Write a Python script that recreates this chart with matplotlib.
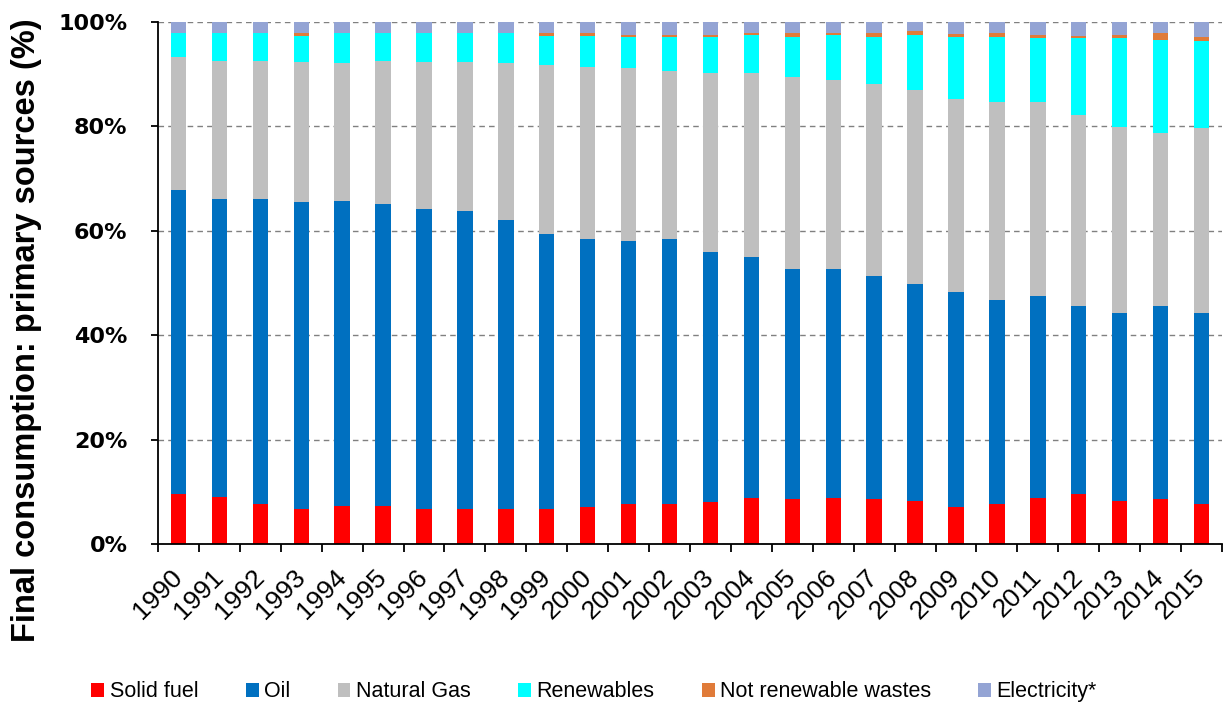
import matplotlib
matplotlib.use("Agg")
import matplotlib.pyplot as plt
from matplotlib.patches import Patch
from matplotlib.ticker import FixedLocator, FuncFormatter
import numpy as np

years = [str(y) for y in range(1990, 2016)]

solid_fuel = [9.5, 9.0, 7.7, 6.8, 7.3, 7.3, 6.8, 6.8, 6.7, 6.8, 7.1, 7.7, 7.7,
              8.0, 8.9, 8.7, 8.9, 8.6, 8.3, 7.1, 7.7, 8.9, 9.5, 8.3, 8.7, 7.7]
oil = [58.4, 57.1, 58.4, 58.7, 58.5, 57.9, 57.4, 56.9, 55.4, 52.6, 51.3, 50.4, 50.7,
       48.0, 46.1, 43.9, 43.7, 42.7, 41.5, 41.2, 39.0, 38.7, 36.0, 36.0, 36.8, 36.6]
natural_gas = [25.3, 26.5, 26.5, 26.9, 26.4, 27.4, 28.2, 28.7, 30.0, 32.4, 33.0, 33.1, 32.2,
               34.3, 35.3, 36.9, 36.3, 36.8, 37.1, 36.9, 38.0, 37.1, 36.7, 35.6, 33.3, 35.3]
renewables = [4.6, 5.2, 5.2, 5.0, 5.6, 5.2, 5.4, 5.4, 5.7, 5.6, 6.0, 5.9, 6.5,
              6.8, 7.3, 7.7, 8.7, 9.1, 10.6, 12.0, 12.5, 12.2, 14.7, 17.0, 17.8, 16.8]
wastes = [0.1, 0.1, 0.1, 0.5, 0.1, 0.1, 0.1, 0.1, 0.1, 0.5, 0.5, 0.5, 0.5,
          0.4, 0.3, 0.6, 0.3, 0.6, 0.7, 0.5, 0.6, 0.7, 0.5, 0.7, 1.2, 0.8]
electricity = [2.1, 2.1, 2.1, 2.1, 2.1, 2.1, 2.1, 2.1, 2.1, 2.1, 2.1, 2.4, 2.4,
               2.5, 2.1, 2.2, 2.1, 2.2, 1.8, 2.3, 2.2, 2.4, 2.6, 2.4, 2.2, 2.8]

series_names = ["Solid fuel", "Oil", "Natural Gas", "Renewables",
                "Not renewable wastes", "Electricity*"]
series_values = [solid_fuel, oil, natural_gas, renewables, wastes, electricity]
colors = ["#FF0000", "#0070C0", "#BFBFBF", "#00FFFF", "#E07B39", "#94A4D4"]

fig = plt.figure(figsize=(12.25, 7.11), dpi=100)
ax = fig.add_axes([158/1225, 1-544/711, 1064/1225, 522/711])

x = np.arange(len(years))
bottom = np.zeros(len(years))
for name, vals, c in zip(series_names, series_values, colors):
    v = np.array(vals, dtype=float)
    ax.bar(x, v, width=0.375, bottom=bottom, color=c, edgecolor='none',
           label=name, zorder=2)
    bottom += v

ax.set_xlim(-0.5, len(years) - 0.5)
ax.set_ylim(0, 100)

ax.set_axisbelow(True)
ax.yaxis.set_major_locator(FixedLocator([0, 20, 40, 60, 80, 100]))
ax.yaxis.set_major_formatter(FuncFormatter(lambda v, p: f"{v:.0f}%"))
ax.grid(axis='y', color='#808080', linestyle=(0, (4, 3)), linewidth=1.0, zorder=0)

for s in ['top', 'right']:
    ax.spines[s].set_visible(False)
for s in ['left', 'bottom']:
    ax.spines[s].set_color('black')
    ax.spines[s].set_linewidth(1.3)

ax.tick_params(axis='y', direction='out', length=5, width=1.3, pad=17)
for lab in ax.get_yticklabels():
    lab.set_fontfamily('DejaVu Sans')
    lab.set_fontweight('bold')
    lab.set_fontsize(16)

ax.set_xticks(x)
ax.set_xticklabels(years, rotation=45, ha='right', va='center',
                   rotation_mode='anchor', fontsize=19, family='Liberation Sans')
ax.tick_params(axis='x', which='major', length=0, pad=21)
ax.set_xticks(np.arange(-0.5, len(years), 1.0), minor=True)
ax.tick_params(axis='x', which='minor', direction='out', length=6, width=1.3)

ax.set_ylabel("Final consumption: primary sources (%)", fontsize=23.5,
              fontweight='bold', family='Liberation Sans', va='center')
ax.yaxis.set_label_coords(-0.124, 0.41)

handles = [Patch(facecolor=c, edgecolor='none') for c in colors]
fig.legend(handles, series_names, loc='center', bbox_to_anchor=(0.485, 0.027),
           ncol=6, frameon=False, handlelength=0.6, handleheight=0.6,
           handletextpad=0.25, columnspacing=2.2,
           prop={'family': 'Liberation Sans', 'size': 15.5})

fig.savefig("out.png", dpi=100)
